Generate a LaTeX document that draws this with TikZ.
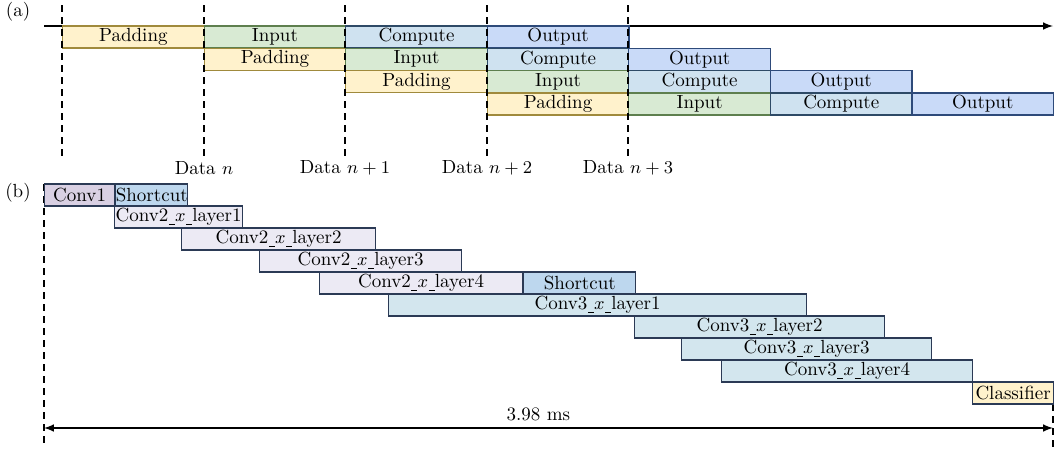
\documentclass[tikz,border=0pt]{standalone}
\usepackage{tikz}
\usetikzlibrary{positioning}
\usetikzlibrary{arrows}

\definecolor{padfill}{HTML}{FFF2CC}
\definecolor{paddraw}{HTML}{A08A3C}
\definecolor{infill}{HTML}{D8EAD3}
\definecolor{indraw}{HTML}{5E7F4E}
\definecolor{compfill}{HTML}{CFE2F0}
\definecolor{compdraw}{HTML}{2E4A66}
\definecolor{outfill}{HTML}{C9DAF8}
\definecolor{outdraw}{HTML}{2E4A7A}
\definecolor{convfill}{HTML}{D9D0E3}
\definecolor{scfill}{HTML}{BDD7EE}
\definecolor{ctwofill}{HTML}{ECEAF4}
\definecolor{cthreefill}{HTML}{D3E6EE}
\definecolor{layerdraw}{HTML}{2B3A55}

% short underscore as in the layer names
\newcommand{\usc}{\kern0.2pt\rule[-1.3pt]{3pt}{0.4pt}\kern0.2pt}

\tikzset{
    task/.style={rectangle, draw, line width=0.6pt, inner sep=0pt, minimum height=11pt, anchor=west},
    padbox/.style={task, fill=padfill, draw=paddraw},
    inbox/.style={task, fill=infill, draw=indraw},
    compbox/.style={task, fill=compfill, draw=compdraw},
    outbox/.style={task, fill=outfill, draw=outdraw},
    layer/.style={task, draw=layerdraw},
    guide/.style={dash pattern=on 3.5pt off 2.5pt, line width=0.9pt},
}

\begin{document}
\begin{tikzpicture}[x=0.5pt, y=-0.5pt, font=\fontsize{9.5}{11}\selectfont]
    \useasboundingbox (0,0) rectangle (1057,450);

    % (a) pipeline
    \node (la) at (18,12) {(a)};
    \coordinate (t0) at (44,26);
    \coordinate (t1) at (1053,26);
    \draw[-latex, line width=0.7pt] (t0) -- (t1);
    \foreach \r in {0,...,3}{
        \foreach \c/\kind/\txt in {0/pad/Padding,1/in/Input,2/comp/Compute,3/out/Output}{
            \node (\kind\r) at ({62+(\r+\c)*141.57}, {37+\r*22.3}) [\kind box, minimum width=70.8pt]{\txt};
        }
    }
    \foreach \x in {62,204,345,487,628}{
        \draw[guide] (\x,5) -- (\x,160);
    }
    \node (d0) at (204,168) {Data $n$};
    \node (d1) at (345,168) {Data $n+1$};
    \node (d2) at (487,168) {Data $n+2$};
    \node (d3) at (628,168) {Data $n+3$};

    % (b) layer timeline
    \node (lb) at (18,193) {(b)};
    \draw[guide] (44,184) -- (44,447);
    \draw[guide] (1053,404) -- (1053,447);
    \node (conv1) at (44,195) [layer, fill=convfill, minimum width=35pt]{Conv1};
    \node (sc1) [right=0pt of conv1, layer, fill=scfill, minimum width=36pt]{Shortcut};
    \node (c21) at (114,217) [layer, fill=ctwofill, minimum width=64pt]{Conv2\usc$x$\usc layer1};
    \node (c22) at (181,239) [layer, fill=ctwofill, minimum width=97pt]{Conv2\usc$x$\usc layer2};
    \node (c23) at (259,261) [layer, fill=ctwofill, minimum width=101pt]{Conv2\usc$x$\usc layer3};
    \node (c24) at (319,283) [layer, fill=ctwofill, minimum width=101.5pt]{Conv2\usc$x$\usc layer4};
    \node (sc2) [right=0pt of c24, layer, fill=scfill, minimum width=56pt]{Shortcut};
    \node (c31) at (388,305) [layer, fill=cthreefill, minimum width=209pt]{Conv3\usc$x$\usc layer1};
    \node (c32) at (634,327) [layer, fill=cthreefill, minimum width=125pt]{Conv3\usc$x$\usc layer2};
    \node (c33) at (681,349) [layer, fill=cthreefill, minimum width=125pt]{Conv3\usc$x$\usc layer3};
    \node (c34) at (721,371) [layer, fill=cthreefill, minimum width=125.5pt]{Conv3\usc$x$\usc layer4};
    \node (cls) at (972,393) [layer, fill=padfill, minimum width=40.5pt]{Classifier};
    \coordinate (s0) at (44,428);
    \coordinate (s1) at (1053,428);
    \draw[latex-latex, line width=0.7pt] (s0) -- (s1) node [pos=0.49, above]{3.98 ms};

\end{tikzpicture}
\end{document}
